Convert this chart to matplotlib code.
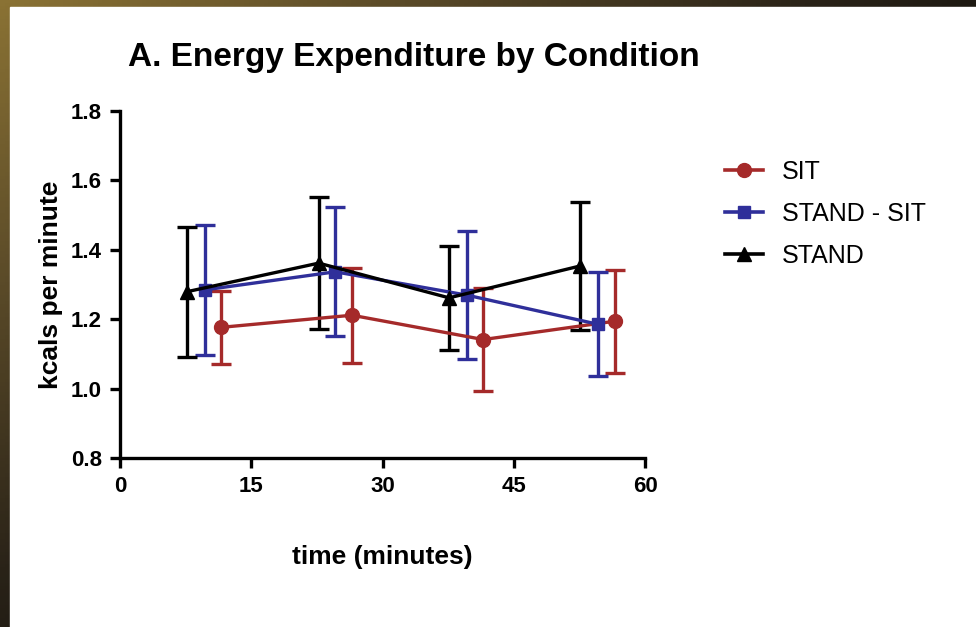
import matplotlib.pyplot as plt
import numpy as np
from matplotlib.colors import LinearSegmentedColormap
from matplotlib.lines import Line2D
from matplotlib.patches import Rectangle

# ── data ────────────────────────────────────────────────────────────────────
series = ["SIT", "STAND - SIT", "STAND"]

sit_x = [11.5, 26.5, 41.5, 56.6]
sit_mean = [1.177, 1.212, 1.142, 1.195]
sit_sd = [0.104, 0.137, 0.147, 0.148]

stsit_x = [9.7, 24.6, 39.6, 54.6]
stsit_mean = [1.285, 1.337, 1.270, 1.186]
stsit_sd = [0.187, 0.186, 0.185, 0.150]

stand_x = [7.7, 22.7, 37.6, 52.6]
stand_mean = [1.280, 1.362, 1.262, 1.354]
stand_sd = [0.187, 0.191, 0.149, 0.185]

x_ticks = [0, 15, 30, 45, 60]
y_ticks = [0.8, 1.0, 1.2, 1.4, 1.6, 1.8]

plt.rcParams["font.family"] = ["Liberation Sans", "DejaVu Sans"]

fig = plt.figure(figsize=(9.76, 6.27), dpi=100)

# ── dark photo-ish backdrop with a white slide panel ──────────────────────
bg = fig.add_axes([0, 0, 1, 1], zorder=-10)
bg.set_axis_off()
grad = LinearSegmentedColormap.from_list(
    "bg", ["#8a7234", "#5a4a28", "#2a2318", "#0c0b09", "#050505"])
yy, xx = np.mgrid[0:1:200j, 0:1:200j]
bg.imshow(np.clip(0.55 * yy + 0.6 * xx, 0, 1), cmap=grad, aspect="auto",
          extent=[0, 1, 0, 1], origin="upper")
bg.add_patch(Rectangle((10 / 976, 0), 1, 1 - 7 / 627,
                       transform=bg.transAxes, color="white", zorder=2))
bg.set_xlim(0, 1); bg.set_ylim(0, 1)

ax = fig.add_axes([0.123, 0.269, 0.538, 0.554])
ax.set_facecolor("none")

styles = [
    (sit_x, sit_mean, sit_sd, "#a52a2a", "o", 10),
    (stsit_x, stsit_mean, stsit_sd, "#2f2f9a", "s", 9),
    (stand_x, stand_mean, stand_sd, "black", "^", 10),
]
handles = []
for name, (x, m, sd, c, mk, ms) in zip(series, styles):
    ax.errorbar(x, m, yerr=sd, color=c, marker=mk, ms=ms, lw=2.4,
                elinewidth=2.4, capsize=7, capthick=2.4)
    handles.append(Line2D([], [], color=c, marker=mk, ms=ms, lw=2.6, label=name))

ax.set_xlim(0, 60)
ax.set_ylim(0.8, 1.8)
ax.set_xticks(x_ticks)
ax.set_yticks(y_ticks)
ax.set_yticklabels([f"{v:.1f}" for v in y_ticks])
for s in ["top", "right"]:
    ax.spines[s].set_visible(False)
for s in ["left", "bottom"]:
    ax.spines[s].set_linewidth(2.4)
ax.tick_params(width=2.4, length=7, labelsize=16, pad=6)
for lab in ax.get_xticklabels() + ax.get_yticklabels():
    lab.set_fontweight("bold")

ax.set_xlabel("time (minutes)", fontsize=19, fontweight="bold", labelpad=34)
ax.set_ylabel("kcals per minute", fontsize=19, fontweight="bold", labelpad=6)
fig.text(0.131, 0.909, "A. Energy Expenditure by Condition", fontsize=24,
         fontweight="bold", va="center", ha="left")

ax.legend(handles=handles, loc="upper left", bbox_to_anchor=(1.11, 0.925),
          frameon=False, fontsize=18, handlelength=1.5, labelspacing=0.72,
          handletextpad=0.75)

fig.savefig("out.png", dpi=100)
